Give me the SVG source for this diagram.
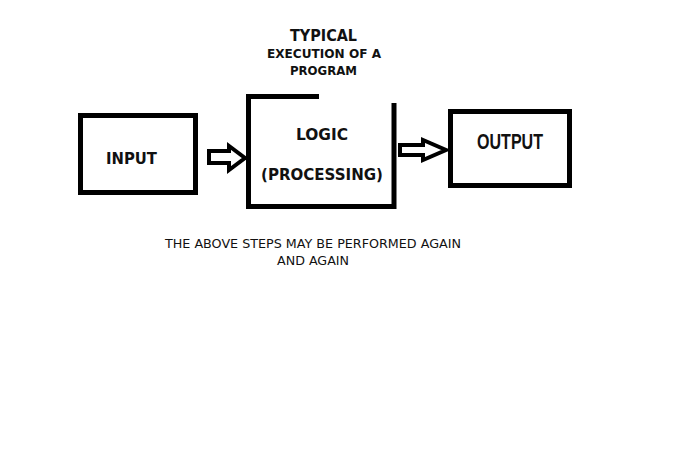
<svg xmlns="http://www.w3.org/2000/svg" width="683" height="460" viewBox="0 0 683 460">
<style>
.box{fill:none;stroke:#000;stroke-width:5}
.arr{fill:#fff;stroke:#000;stroke-width:4;stroke-linejoin:miter}
.b{font-family:"DejaVu Sans",Verdana,sans-serif;font-weight:bold;fill:#111;text-anchor:middle}
.r{font-family:"DejaVu Sans",Tahoma,sans-serif;fill:#111;text-anchor:middle;font-size:12.5px}
.c{font-family:"Liberation Sans",Arial,sans-serif;font-weight:bold;fill:#111;text-anchor:middle}
</style>
<rect width="683" height="460" fill="#fff"/>
<g id="title">
<text class="b" x="323.5" y="41" font-size="15" textLength="67" lengthAdjust="spacingAndGlyphs">TYPICAL</text>
<text class="b" x="324" y="58" font-size="12.5" textLength="114" lengthAdjust="spacingAndGlyphs">EXECUTION OF A</text>
<text class="b" x="323.5" y="75" font-size="12.5" textLength="67" lengthAdjust="spacingAndGlyphs">PROGRAM</text>
</g>
<g id="input">
<rect class="box" x="80.5" y="115.5" width="115" height="77"/>
<text class="b" x="131.5" y="164" font-size="15.5" textLength="51" lengthAdjust="spacingAndGlyphs">INPUT</text>
</g>
<g id="logic">
<path class="box" d="M319,96.5 H248.5 V206.5 H394 V103"/>
<text class="b" x="322" y="140" font-size="15.5" textLength="52" lengthAdjust="spacingAndGlyphs">LOGIC</text>
<text class="b" x="322" y="180" font-size="15.5" textLength="122" lengthAdjust="spacingAndGlyphs">(PROCESSING)</text>
</g>
<g id="output">
<rect class="box" x="450.5" y="111.5" width="119" height="74"/>
<text class="c" x="510" y="149" font-size="22" textLength="66" lengthAdjust="spacingAndGlyphs">OUTPUT</text>
</g>
<g id="connectors">
<path class="arr" d="M209,151 H229 V146 L245,158 L229,170 V163 H209 Z"/>
<path class="arr" d="M400,145 H423 V140 L446,150 L423,160 V155 H400 Z"/>
</g>
<g id="note">
<text class="r" x="313" y="248" textLength="296" lengthAdjust="spacingAndGlyphs">THE ABOVE STEPS MAY BE PERFORMED AGAIN</text>
<text class="r" x="313" y="265" textLength="72" lengthAdjust="spacingAndGlyphs">AND AGAIN</text>
</g>
</svg>
